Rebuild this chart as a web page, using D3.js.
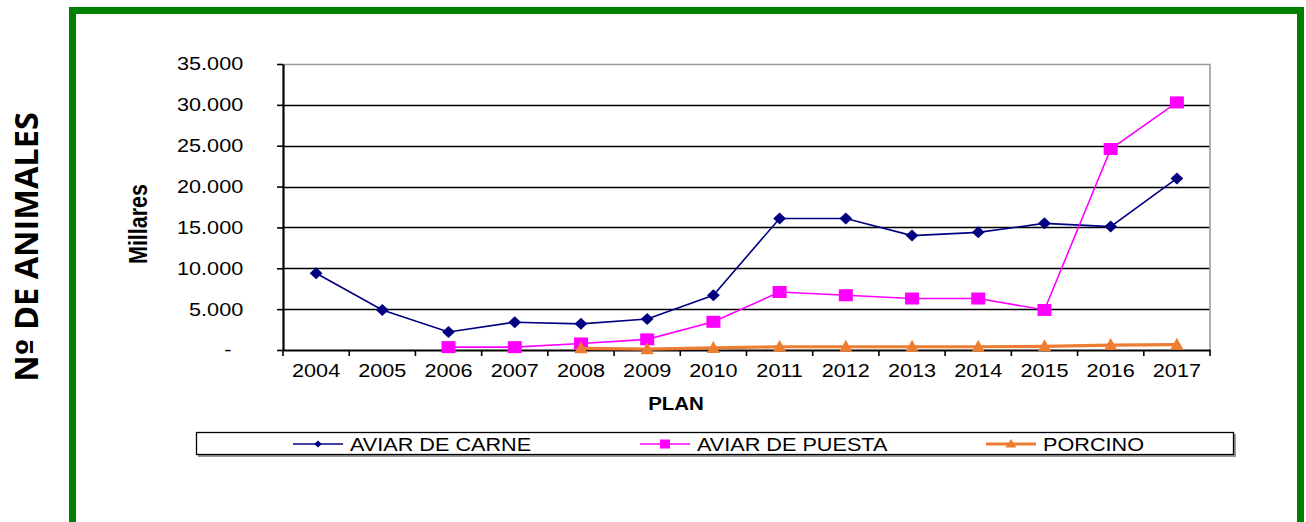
<!DOCTYPE html>
<html>
<head>
<meta charset="utf-8">
<script src="https://cdn.jsdelivr.net/npm/d3@7"></script>
<style>
  body { margin: 0; background: #fff; }
  svg { display: block; font-family: "Liberation Sans", Arial, sans-serif; }
</style>
</head>
<body>
<svg id="chart" width="1306" height="522"></svg>
<script>
const years = ["2004","2005","2006","2007","2008","2009","2010","2011","2012","2013","2014","2015","2016","2017"];
const carne = [9400, 4900, 2200, 3400, 3200, 3800, 6700, 16100, 16100, 14000, 14400, 15500, 15100, 21000];
const puesta = [null, null, 350, 350, 800, 1300, 3450, 7100, 6700, 6300, 6300, 4900, 24600, 30300];
const porcino = [null, null, null, null, 200, 100, 250, 400, 400, 400, 400, 450, 600, 650];
const yTicks = [0, 5000, 10000, 15000, 20000, 25000, 30000, 35000];
const seriesNames = ["AVIAR DE CARNE", "AVIAR DE PUESTA", "PORCINO"];

const margin = {top: 64, left: 283, right: 96, bottom: 172},
      width = 1306 - margin.left - margin.right,
      height = 522 - margin.top - margin.bottom;
const stretch = 1.17; // text in the original is a bit wider than tall

const svg = d3.select("#chart");

// green frame
svg.append("rect")
  .attr("x", 72.5).attr("y", 10.5)
  .attr("width", 1228).attr("height", 560)
  .attr("fill", "none").attr("stroke", "#008000").attr("stroke-width", 7);

const g = svg.append("g").attr("transform", "translate(" + margin.left + "," + margin.top + ")");

const x = d3.scaleBand().domain(years).range([0, width]);
const y = d3.scaleLinear().domain([0, 35000]).range([height, 0]);

const fmt = v => v === 0 ? "-" : d3.format(",")(v).replace(/,/g, ".");

// gridlines
g.append("g")
  .selectAll("line")
  .data(yTicks.slice(1, -1))
  .enter().append("line")
  .attr("x1", 0).attr("x2", width)
  .attr("y1", d => Math.round(y(d)) + 0.5).attr("y2", d => Math.round(y(d)) + 0.5)
  .attr("stroke", "#000").attr("stroke-width", 1.6);

// plot border top/right
g.append("path")
  .attr("d", "M0," + (Math.round(y(35000)) + 0.5) + "H" + width + "V" + height)
  .attr("fill", "none").attr("stroke", "#999").attr("stroke-width", 1.6);

// y axis
const yAxis = g.append("g")
  .call(d3.axisLeft(y).tickValues(yTicks).tickFormat(fmt).tickSize(6).tickSizeOuter(0));
yAxis.select(".domain").attr("stroke", "#000").attr("stroke-width", 2.2);
yAxis.selectAll(".tick line").attr("stroke", "#000").attr("stroke-width", 1.6);
yAxis.selectAll("text")
  .attr("font-size", 18.5).attr("fill", "#000")
  .attr("x", d => d === 0 ? -44 : -34)
  .attr("transform", "scale(" + stretch + ",1)");

// x axis
const xAxis = g.append("g")
  .attr("transform", "translate(0," + height + ")")
  .call(d3.axisBottom(x).tickSize(0).tickSizeOuter(0));
xAxis.select(".domain").attr("stroke", "#000").attr("stroke-width", 2.2);
xAxis.selectAll("text")
  .attr("font-size", 18.5).attr("fill", "#000")
  .attr("y", 27).attr("dy", null)
  .attr("transform", "scale(" + stretch + ",1)");
xAxis.append("g").selectAll("line")
  .data(years.map(d => x(d)).concat([width]))
  .enter().append("line")
  .attr("x1", d => d).attr("x2", d => d).attr("y1", 0).attr("y2", 6)
  .attr("stroke", "#000").attr("stroke-width", 1.6);

// axis titles
svg.append("text")
  .attr("transform", "translate(676,410) scale(" + stretch + ",1)")
  .attr("text-anchor", "middle").attr("font-size", 17.5).attr("font-weight", "bold")
  .text("PLAN");
svg.append("text")
  .attr("transform", "translate(147,224) scale(" + stretch + ",1) rotate(-90)")
  .attr("text-anchor", "middle").attr("font-size", 21.5).attr("font-weight", "bold")
  .text("Millares");
const big = svg.append("text")
  .attr("transform", "translate(38,247) rotate(-90)")
  .attr("text-anchor", "middle").attr("font-size", 32.5).attr("font-weight", "bold")
  .attr("font-family", "'Open Sans', sans-serif");
big.append("tspan").text("N");
big.append("tspan").attr("font-family", "'DejaVu Sans', sans-serif").attr("font-size", 30).text("º");
big.append("tspan").text(" DE ANIMALES");

// marker shapes
const diamond = {draw(ctx) { ctx.moveTo(0, -6); ctx.lineTo(6.4, 0); ctx.lineTo(0, 6); ctx.lineTo(-6.4, 0); ctx.closePath(); }};
const square = {draw(ctx) { ctx.rect(-7, -6, 14, 12); }};
const triangle = {draw(ctx) { ctx.moveTo(0, -7); ctx.lineTo(6.6, 5); ctx.lineTo(-6.6, 5); ctx.closePath(); }};
const diamondS = {draw(ctx) { ctx.moveTo(0, -3.5); ctx.lineTo(3.8, 0); ctx.lineTo(0, 3.5); ctx.lineTo(-3.8, 0); ctx.closePath(); }};
const squareS = {draw(ctx) { ctx.rect(-5, -4.5, 10, 9); }};
const triangleS = {draw(ctx) { ctx.moveTo(0, -5); ctx.lineTo(5.5, 3.5); ctx.lineTo(-5.5, 3.5); ctx.closePath(); }};

const cx = d => x(d) + x.bandwidth() / 2;
const series = [
  {name: seriesNames[0], values: carne, color: "#000080", w: 1.6, sym: diamond, symS: diamondS},
  {name: seriesNames[1], values: puesta, color: "#FF00FF", w: 1.6, sym: square, symS: squareS},
  {name: seriesNames[2], values: porcino, color: "#ED7D31", w: 3.2, sym: triangle, symS: triangleS}
];

const line = d3.line()
  .defined(d => d.v !== null)
  .x(d => cx(d.year))
  .y(d => y(d.v));

series.forEach(s => {
  const pts = years.map((yr, i) => ({year: yr, v: s.values[i]}));
  g.append("path")
    .datum(pts)
    .attr("fill", "none").attr("stroke", s.color).attr("stroke-width", s.w)
    .attr("d", line);
  g.selectAll(null)
    .data(pts.filter(d => d.v !== null))
    .enter().append("path")
    .attr("transform", d => "translate(" + cx(d.year) + "," + y(d.v) + ")")
    .attr("d", d3.symbol().type(s.sym).size(64))
    .attr("fill", s.color);
});

// legend
const lg = svg.append("g");
lg.append("rect").attr("x", 198).attr("y", 434).attr("width", 1038).attr("height", 23).attr("fill", "#999");
lg.append("rect").attr("x", 196.5).attr("y", 432.5).attr("width", 1037).attr("height", 22)
  .attr("fill", "#fff").attr("stroke", "#000").attr("stroke-width", 1.3);
const legendX = [293, 640, 986];
series.forEach((s, i) => {
  const lx = legendX[i], ly = 444;
  lg.append("line").attr("x1", lx).attr("x2", lx + 50).attr("y1", ly).attr("y2", ly)
    .attr("stroke", s.color).attr("stroke-width", s.w);
  lg.append("path").attr("transform", "translate(" + (lx + 25) + "," + ly + ")")
    .attr("d", d3.symbol().type(s.symS).size(64)).attr("fill", s.color);
  lg.append("text").attr("transform", "translate(" + (lx + 57) + "," + (ly + 7) + ") scale(" + stretch + ",1)")
    .attr("font-size", 18.5).text(s.name);
});
</script>
</body>
</html>
